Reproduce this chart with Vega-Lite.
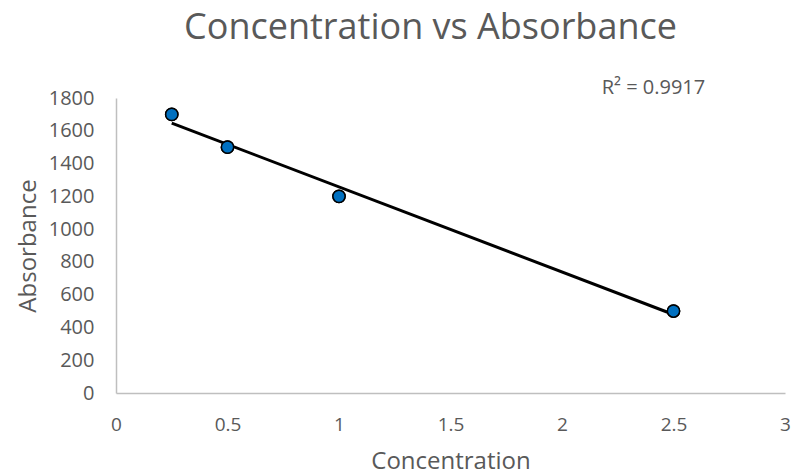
{
  "$schema": "https://vega.github.io/schema/vega-lite/v6.json",
  "autosize": {"type": "none"},
  "width": 669,
  "height": 295,
  "padding": {"left": 116, "top": 98, "right": 6, "bottom": 81},
  "background": "white",
  "config": {
    "font": "Open Sans",
    "view": {"stroke": null},
    "axis": {"labelOverlap": false, "labelFontSize": 20}
  },
  "title": {"text": "Concentration vs Absorbance", "fontSize": 36, "fontWeight": "normal", "color": "#595959", "font": "Open Sans", "offset": 31, "dx": -20},
  "data": {"values": [
    {"Concentration": 0.25, "Absorbance": 1700},
    {"Concentration": 0.5, "Absorbance": 1500},
    {"Concentration": 1, "Absorbance": 1200},
    {"Concentration": 2.5, "Absorbance": 500}
  ]},
  "layer": [
    {
      "mark": {"type": "point", "filled": true, "color": "#0070C0", "stroke": "black", "strokeWidth": 1.5, "size": 150, "opacity": 1},
      "encoding": {
        "x": {"field": "Concentration", "type": "quantitative", "scale": {"domain": [0, 3], "nice": false}, "axis": {"values": [0, 0.5, 1, 1.5, 2, 2.5, 3], "format": "~g", "grid": false, "ticks": false, "domainColor": "#bfbfbf", "domainWidth": 1.5, "labelColor": "#595959", "titleColor": "#595959", "labelFontSize": 19, "titleFontSize": 24, "titleFontWeight": "normal", "labelOverlap": false, "labelPadding": 22, "titlePadding": 15, "labelFlush": false}},
        "y": {"field": "Absorbance", "type": "quantitative", "scale": {"domain": [0, 1800], "nice": false}, "axis": {"values": [0, 200, 400, 600, 800, 1000, 1200, 1400, 1600, 1800], "tickCount": 10, "format": "d", "grid": false, "ticks": false, "domainColor": "#bfbfbf", "domainWidth": 1.5, "labelColor": "#595959", "titleColor": "#595959", "labelFontSize": 20, "titleFontSize": 24, "titleFontWeight": "normal", "labelOverlap": false, "labelSeparation": 0, "labelPadding": 22, "titlePadding": 8, "labelFlush": false}}
      }
    },
    {
      "transform": [{"regression": "Absorbance", "on": "Concentration"}],
      "mark": {"type": "line", "color": "black", "strokeWidth": 3},
      "encoding": {
        "x": {"field": "Concentration", "type": "quantitative"},
        "y": {"field": "Absorbance", "type": "quantitative"}
      }
    },
    {
      "mark": {"type": "point", "filled": true, "color": "#0070C0", "stroke": "black", "strokeWidth": 1.5, "size": 150, "opacity": 1},
      "encoding": {
        "x": {"field": "Concentration", "type": "quantitative"},
        "y": {"field": "Absorbance", "type": "quantitative"}
      }
    },
    {
      "transform": [
        {"regression": "Absorbance", "on": "Concentration", "params": true},
        {"calculate": "'R² = ' + format(datum.rSquared, '.4f')", "as": "label"}
      ],
      "mark": {"type": "text", "fontSize": 20, "color": "#595959", "dy": -10, "clip": false},
      "encoding": {
        "x": {"datum": 2.41, "type": "quantitative"},
        "y": {"datum": 1800, "type": "quantitative"},
        "text": {"field": "label"}
      }
    }
  ]
}
